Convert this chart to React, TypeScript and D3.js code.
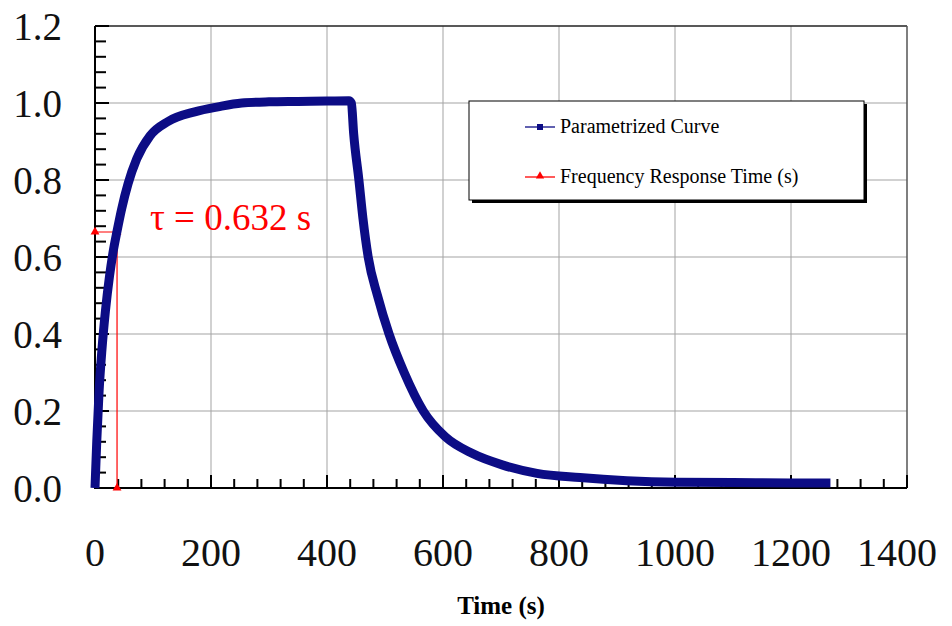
import React, { useEffect, useRef } from 'react'
import * as d3 from 'd3'

// Parametrized curve (time in s, normalised response)
const curveTime = [0, 3, 7, 12, 18, 25, 32, 38, 46, 57, 72, 95, 126, 172, 212, 253, 300, 350, 400, 438,
    442, 446, 455, 462, 471, 487, 507, 533, 566, 604, 650, 702, 762, 836, 917, 1003, 1100, 1200, 1268]
const curveValue = [0, 0.12, 0.25, 0.36, 0.46, 0.55, 0.62, 0.667, 0.725, 0.79, 0.855, 0.915, 0.952, 0.977, 0.99, 1.0, 1.003, 1.004, 1.005, 1.006,
    1.0, 0.92, 0.80, 0.70, 0.60, 0.50, 0.40, 0.30, 0.20, 0.133, 0.09, 0.06, 0.038, 0.027, 0.019, 0.015, 0.014, 0.013, 0.013]

// Frequency response time marker
const responseTime = [0, 38, 38]
const responseValue = [0.665, 0.665, 0]

// Axis ticks
const xTicks = [0, 200, 400, 600, 800, 1000, 1200, 1400]
const yTicks = [0, 0.2, 0.4, 0.6, 0.8, 1.0, 1.2]

const legendLabels = ['Parametrized Curve', 'Frequency Response Time (s)']
const tauLabel = 'τ = 0.632 s'
const xTitle = 'Time (s)'

const width = 952
const height = 626
const serif = "'Liberation Serif', 'Times New Roman', serif"

export default function App() {
    const ref = useRef<SVGSVGElement>(null)

    useEffect(() => {
        document.body.style.margin = '0'
        const svg = d3.select(ref.current)
        svg.selectAll('*').remove()

        // Scales
        const xScale = d3.scaleLinear().domain([0, 1400]).range([95, 907])
        const yScale = d3.scaleLinear().domain([0, 1.2]).range([488, 26])

        const x0 = xScale(0), x1 = xScale(1400)
        const y0 = yScale(0), y1 = yScale(1.2)

        svg.append('rect').attr('width', width).attr('height', height).attr('fill', '#fff')

        // Grid
        xTicks.slice(1, -1).forEach(t => {
            svg.append('line')
                .attr('x1', xScale(t)).attr('x2', xScale(t))
                .attr('y1', y1).attr('y2', y0)
                .style('stroke', '#a3a3a3').style('stroke-width', 1)
        })
        yTicks.slice(1, -1).forEach(t => {
            svg.append('line')
                .attr('x1', x0).attr('x2', x1)
                .attr('y1', yScale(t)).attr('y2', yScale(t))
                .style('stroke', '#a3a3a3').style('stroke-width', 1)
        })

        // Frame top / right
        svg.append('line').attr('x1', x0).attr('x2', x1).attr('y1', y1).attr('y2', y1)
            .style('stroke', '#222').style('stroke-width', 1.5)
        svg.append('line').attr('x1', x1).attr('x2', x1).attr('y1', y1).attr('y2', y0)
            .style('stroke', '#555').style('stroke-width', 1.5)

        // Minor ticks
        d3.range(0, 1400.1, 40).forEach(t => {
            const major = t % 200 === 0
            svg.append('line')
                .attr('x1', xScale(t)).attr('x2', xScale(t))
                .attr('y1', y0).attr('y2', y0 - (major ? 13 : 9))
                .style('stroke', '#000').style('stroke-width', 2)
        })
        d3.range(0, 1.2001, 0.04).forEach(v => {
            const major = Math.abs(v / 0.2 - Math.round(v / 0.2)) < 1e-6
            svg.append('line')
                .attr('x1', x0).attr('x2', x0 + (major ? 14 : 11))
                .attr('y1', yScale(v)).attr('y2', yScale(v))
                .style('stroke', '#000').style('stroke-width', 2)
        })

        // Axes lines
        svg.append('line').attr('x1', x0).attr('x2', x0).attr('y1', y1).attr('y2', y0 + 1)
            .style('stroke', '#000').style('stroke-width', 2)
        svg.append('line').attr('x1', x0 - 1).attr('x2', x1).attr('y1', y0).attr('y2', y0)
            .style('stroke', '#000').style('stroke-width', 2)

        // Tick labels
        yTicks.forEach(t => {
            svg.append('text')
                .text(t.toFixed(1))
                .attr('x', 62)
                .attr('y', yScale(t) + 14)
                .attr('text-anchor', 'end')
                .attr('font-family', serif)
                .attr('font-size', '39px')
                .attr('fill', '#111')
        })
        xTicks.forEach((t, i) => {
            svg.append('text')
                .text(t)
                .attr('x', xScale(t) - (i === xTicks.length - 1 ? 10 : 0))
                .attr('y', 566)
                .attr('text-anchor', 'middle')
                .attr('font-family', serif)
                .attr('font-size', '40px')
                .attr('fill', '#111')
        })

        // Axis title
        svg.append('text')
            .text(xTitle)
            .attr('x', (x0 + x1) / 2)
            .attr('y', 614)
            .attr('text-anchor', 'middle')
            .attr('font-family', serif)
            .attr('font-weight', 'bold')
            .attr('font-size', '25px')
            .attr('fill', '#000')

        // Response time (red)
        const redData = responseTime.map((t, i) => [t, responseValue[i]] as [number, number])
        const redLine = d3.line<[number, number]>()
            .x(d => xScale(d[0]))
            .y(d => yScale(d[1]))
        svg.append('path')
            .attr('d', redLine(redData))
            .attr('fill', 'none')
            .style('stroke', '#ff0000')
            .style('stroke-width', 1.2)
        const triangle = d3.symbol().type(d3.symbolTriangle).size(34)
        redData.forEach(d => {
            svg.append('path')
                .attr('d', triangle())
                .attr('transform', `translate(${xScale(d[0])},${yScale(d[1])})`)
                .attr('fill', '#ff0000')
        })

        // Parametrized curve (blue)
        const blueData = curveTime.map((t, i) => [t, curveValue[i]] as [number, number])
        const blueLine = d3.line<[number, number]>()
            .x(d => xScale(d[0]))
            .y(d => yScale(d[1]))
            .curve(d3.curveMonotoneX)
        svg.append('path')
            .attr('d', blueLine(blueData))
            .attr('fill', 'none')
            .style('stroke', '#0c0c85')
            .style('stroke-width', 9)
            .style('stroke-linejoin', 'round')
            .style('stroke-linecap', 'butt')

        // Tau label
        svg.append('text')
            .text(tauLabel)
            .attr('x', 150)
            .attr('y', 230)
            .attr('font-family', serif)
            .attr('font-size', '37px')
            .attr('fill', '#ff0000')

        // Legend
        svg.append('rect').attr('x', 472).attr('y', 104).attr('width', 395).attr('height', 99).attr('fill', '#000')
        svg.append('rect').attr('x', 469).attr('y', 101).attr('width', 395).attr('height', 99)
            .attr('fill', '#fff').style('stroke', '#000').style('stroke-width', 1)

        legendLabels.forEach((label, i) => {
            const ly = 127 + i * 50
            const color = i === 0 ? '#0c0c85' : '#ff0000'
            svg.append('line')
                .attr('x1', 525).attr('x2', 555).attr('y1', ly).attr('y2', ly)
                .style('stroke', color).style('stroke-width', 1.3)
            if (i === 0) {
                svg.append('rect').attr('x', 537).attr('y', ly - 3).attr('width', 6).attr('height', 6).attr('fill', color)
            } else {
                svg.append('path')
                    .attr('d', d3.symbol().type(d3.symbolTriangle).size(30)())
                    .attr('transform', `translate(540,${ly - 1})`)
                    .attr('fill', color)
            }
            svg.append('text')
                .text(label)
                .attr('x', 560)
                .attr('y', ly + 6)
                .attr('font-family', serif)
                .attr('font-size', '20px')
                .attr('fill', '#000')
        })
    }, [])

    return <svg ref={ref} width={width} height={height} style={{ display: 'block' }} />
}
